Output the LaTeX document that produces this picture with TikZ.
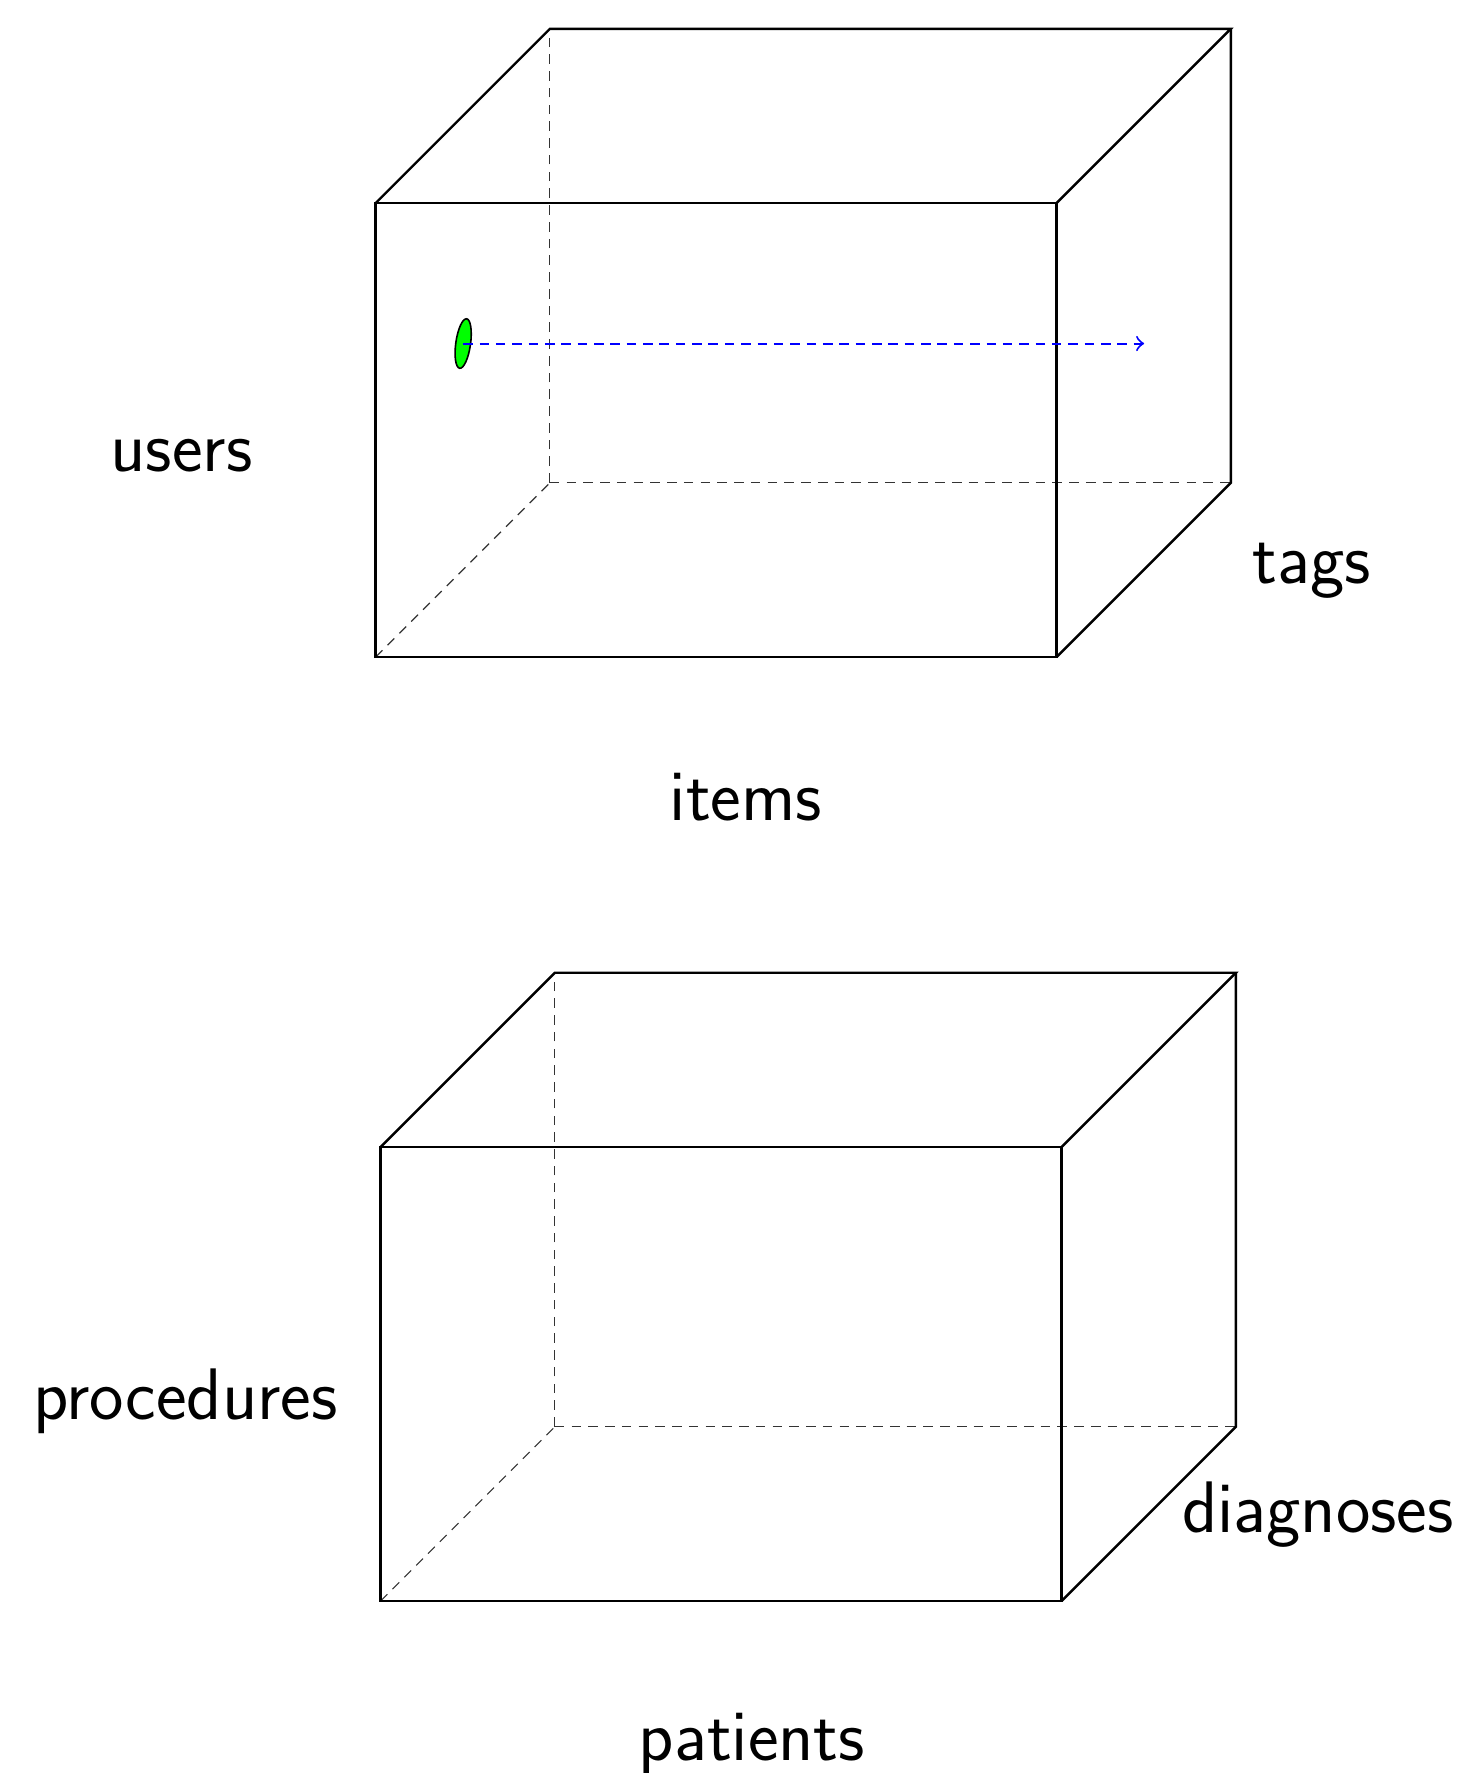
\documentclass[tikz,border=0pt]{standalone}
\usepackage{tikz}
\usetikzlibrary{positioning}
\usetikzlibrary{calc}
\usetikzlibrary{shapes.geometric}

\begin{document}
\begin{tikzpicture}[
    solid edge/.style={draw, semithick},
    hidden edge/.style={draw, line width=0.3pt, black!80, dash pattern=on 2.4pt off 1.8pt},
    axis label/.style={anchor=base, font=\fontsize{18.3}{22}\selectfont\sffamily},
]
    \useasboundingbox (-3.310,5.789) rectangle (9.606,-9.833);

    % Oberer Wuerfel
    \coordinate (t_a) at (0,0);
    \coordinate (t_b) at (6,0);
    \coordinate (t_c) at (6,4);
    \coordinate (t_d) at (0,4);
    \coordinate (t_ab) at ($(t_a)+(1.535,1.535)$);
    \coordinate (t_bb) at ($(t_b)+(1.535,1.535)$);
    \coordinate (t_cb) at ($(t_c)+(1.535,1.535)$);
    \coordinate (t_db) at ($(t_d)+(1.535,1.535)$);

    \path[hidden edge] (t_a) -- (t_ab);
    \path[hidden edge] (t_ab) -- (t_bb);
    \path[hidden edge] (t_ab) -- (t_db);
    \path[solid edge] (t_a) -- (t_b) -- (t_c) -- (t_d) -- cycle;
    \path[solid edge] (t_d) -- (t_db) -- (t_cb) -- (t_c);
    \path[solid edge] (t_cb) -- (t_bb) -- (t_b);

    % Eintrag und Richtung
    \node[draw, thin, ellipse, fill=green, inner sep=0pt, minimum width=0.13cm, minimum height=0.44cm, rotate=-8] (entry) at (0.771,2.762) {};
    \coordinate (entry_end) at (6.771,2.762);
    \draw[->, line width=0.5pt, blue, dash pattern=on 2.4pt off 1.7pt] (entry.center) -- (entry_end);

    \node[axis label] (users) at (-1.711,1.633) {users};
    \node[axis label] (tags) at (8.249,0.652) {tags};
    \node[axis label] (items) at (3.262,-1.436) {items};

    % Unterer Wuerfel
    \coordinate (b_a) at (0.044,-8.317);
    \coordinate (b_b) at ($(b_a)+(6,0)$);
    \coordinate (b_c) at ($(b_a)+(6,4)$);
    \coordinate (b_d) at ($(b_a)+(0,4)$);
    \coordinate (b_ab) at ($(b_a)+(1.535,1.535)$);
    \coordinate (b_bb) at ($(b_b)+(1.535,1.535)$);
    \coordinate (b_cb) at ($(b_c)+(1.535,1.535)$);
    \coordinate (b_db) at ($(b_d)+(1.535,1.535)$);

    \path[hidden edge] (b_a) -- (b_ab);
    \path[hidden edge] (b_ab) -- (b_bb);
    \path[hidden edge] (b_ab) -- (b_db);
    \path[solid edge] (b_a) -- (b_b) -- (b_c) -- (b_d) -- cycle;
    \path[solid edge] (b_d) -- (b_db) -- (b_cb) -- (b_c);
    \path[solid edge] (b_cb) -- (b_bb) -- (b_b);

    \node[axis label] (procedures) at (-1.676,-6.714) {procedures};
    \node[axis label] (diagnoses) at (8.302,-7.71) {diagnoses};
    \node[axis label] (patients) at (3.315,-9.72) {patients};
\end{tikzpicture}
\end{document}
